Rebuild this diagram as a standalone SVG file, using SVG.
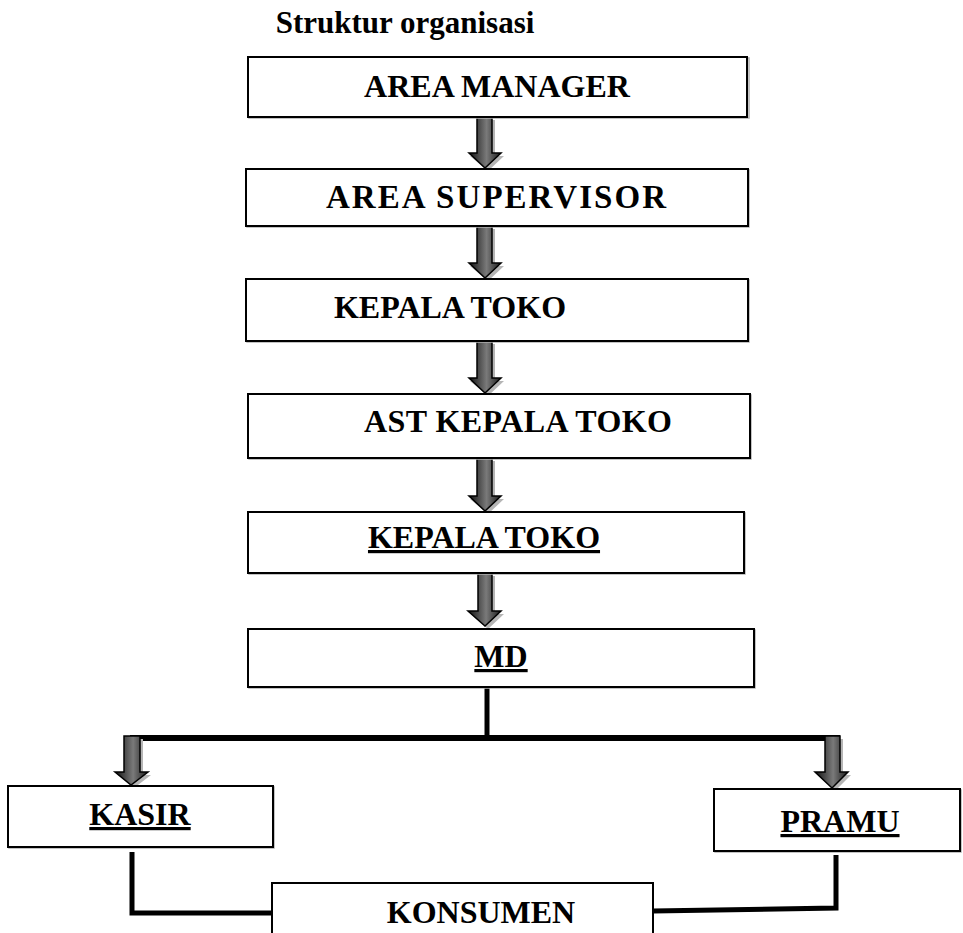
<svg xmlns="http://www.w3.org/2000/svg" width="963" height="933" viewBox="0 0 963 933">
<style>
.box{fill:#fff;stroke:#000;stroke-width:2}
.sh{fill:none;stroke:#b0b0b0;stroke-width:1.5}
.t{font-family:"Liberation Serif","Times New Roman",serif;font-weight:bold;font-size:32px;fill:#000;text-anchor:middle}
.u{text-decoration:underline}
.arr{fill:url(#ag);stroke:#000;stroke-width:1.5;stroke-linejoin:miter}
.ash{fill:#b5b5b5}
.ln{fill:none;stroke:#000;stroke-width:5}
</style>
<defs>
<linearGradient id="ag" x1="0" y1="0" x2="1" y2="0">
<stop offset="0" stop-color="#111"/>
<stop offset="0.55" stop-color="#7a7a7a"/>
<stop offset="1" stop-color="#1a1a1a"/>
</linearGradient>
</defs>
<rect width="963" height="933" fill="#fff"/>
<text x="405" y="33" class="t" style="font-size:31px">Struktur organisasi</text>

<g id="connectors">
<path class="ln" d="M487,687 V738"/>
<path class="ln" d="M130,738 H840" style="stroke-width:6"/>
<path class="ln" d="M132,852 V913 H273"/>
<path class="ln" d="M836,855 V908 L653,911"/>
<g id="arrows">
<polygon class="ash" points="480,120 495,120 495,156 504,156 488,171 470,156 480,156"/>
<polygon class="arr" points="477,117 492,117 492,153 501,153 485,168 469,153 477,153"/>
<polygon class="ash" points="480,229 495,229 495,266 504,266 488,281 470,266 480,266"/>
<polygon class="arr" points="477,226 492,226 492,263 501,263 485,278 469,263 477,263"/>
<polygon class="ash" points="480,344 495,344 495,381 504,381 488,396 470,381 480,381"/>
<polygon class="arr" points="477,341 492,341 492,378 501,378 485,393 469,378 477,378"/>
<polygon class="ash" points="480,461 495,461 495,499 504,499 488,514 470,499 480,499"/>
<polygon class="arr" points="477,458 492,458 492,496 501,496 485,511 469,496 477,496"/>
<polygon class="ash" points="481,576 495,576 495,614 504,614 488,629 471,614 481,614"/>
<polygon class="arr" points="478,573 492,573 492,611 501,611 485,626 468,611 478,611"/>
<polygon class="ash" points="127,739 143,739 143,775 151,775 134,788 118,775 127,775"/>
<polygon class="arr" points="124,736 140,736 140,772 148,772 131,785 115,772 124,772"/>
<polygon class="ash" points="828,739 843,739 843,775 851,775 835,791 818,775 828,775"/>
<polygon class="arr" points="825,736 840,736 840,772 848,772 832,788 815,772 825,772"/>
</g>
</g>

<g id="area-manager">
<rect class="sh" x="249" y="58" width="500" height="60"/>
<rect class="box" x="248" y="57" width="499" height="60"/>
<text x="497" y="97" class="t">AREA MANAGER</text>
</g>
<g id="area-supervisor">
<rect class="sh" x="247" y="170" width="502" height="57"/>
<rect class="box" x="246" y="169" width="502" height="57"/>
<text x="496" y="208" class="t" style="font-size:33px" textLength="340" lengthAdjust="spacing">AREA SUPERVISOR</text>
</g>
<g id="kepala-toko-1">
<rect class="sh" x="247" y="280" width="502" height="62"/>
<rect class="box" x="246" y="279" width="502" height="62"/>
<text x="450" y="318" class="t">KEPALA TOKO</text>
</g>
<g id="ast-kepala-toko">
<rect class="sh" x="249" y="395" width="502" height="64"/>
<rect class="box" x="248" y="394" width="502" height="64"/>
<text x="518" y="432" class="t" textLength="308" lengthAdjust="spacing">AST KEPALA TOKO</text>
</g>
<g id="kepala-toko-2">
<rect class="sh" x="249" y="513" width="496" height="61"/>
<rect class="box" x="248" y="512" width="496" height="61"/>
<text x="484" y="548" class="t u">KEPALA TOKO</text>
</g>
<g id="md">
<rect class="sh" x="249" y="630" width="506" height="58"/>
<rect class="box" x="248" y="629" width="506" height="58"/>
<text x="501" y="667" class="t u">MD</text>
</g>
<g id="kasir">
<rect class="sh" x="9" y="787" width="265" height="61"/>
<rect class="box" x="8" y="786" width="265" height="61"/>
<text x="140" y="825" class="t u">KASIR</text>
</g>
<g id="pramu">
<rect class="sh" x="715" y="790" width="246" height="62"/>
<rect class="box" x="714" y="789" width="246" height="62"/>
<text x="840" y="832" class="t u">PRAMU</text>
</g>
<g id="konsumen">
<rect class="box" x="272" y="883" width="381" height="60"/>
<text x="481" y="923" class="t">KONSUMEN</text>
</g>
</svg>
